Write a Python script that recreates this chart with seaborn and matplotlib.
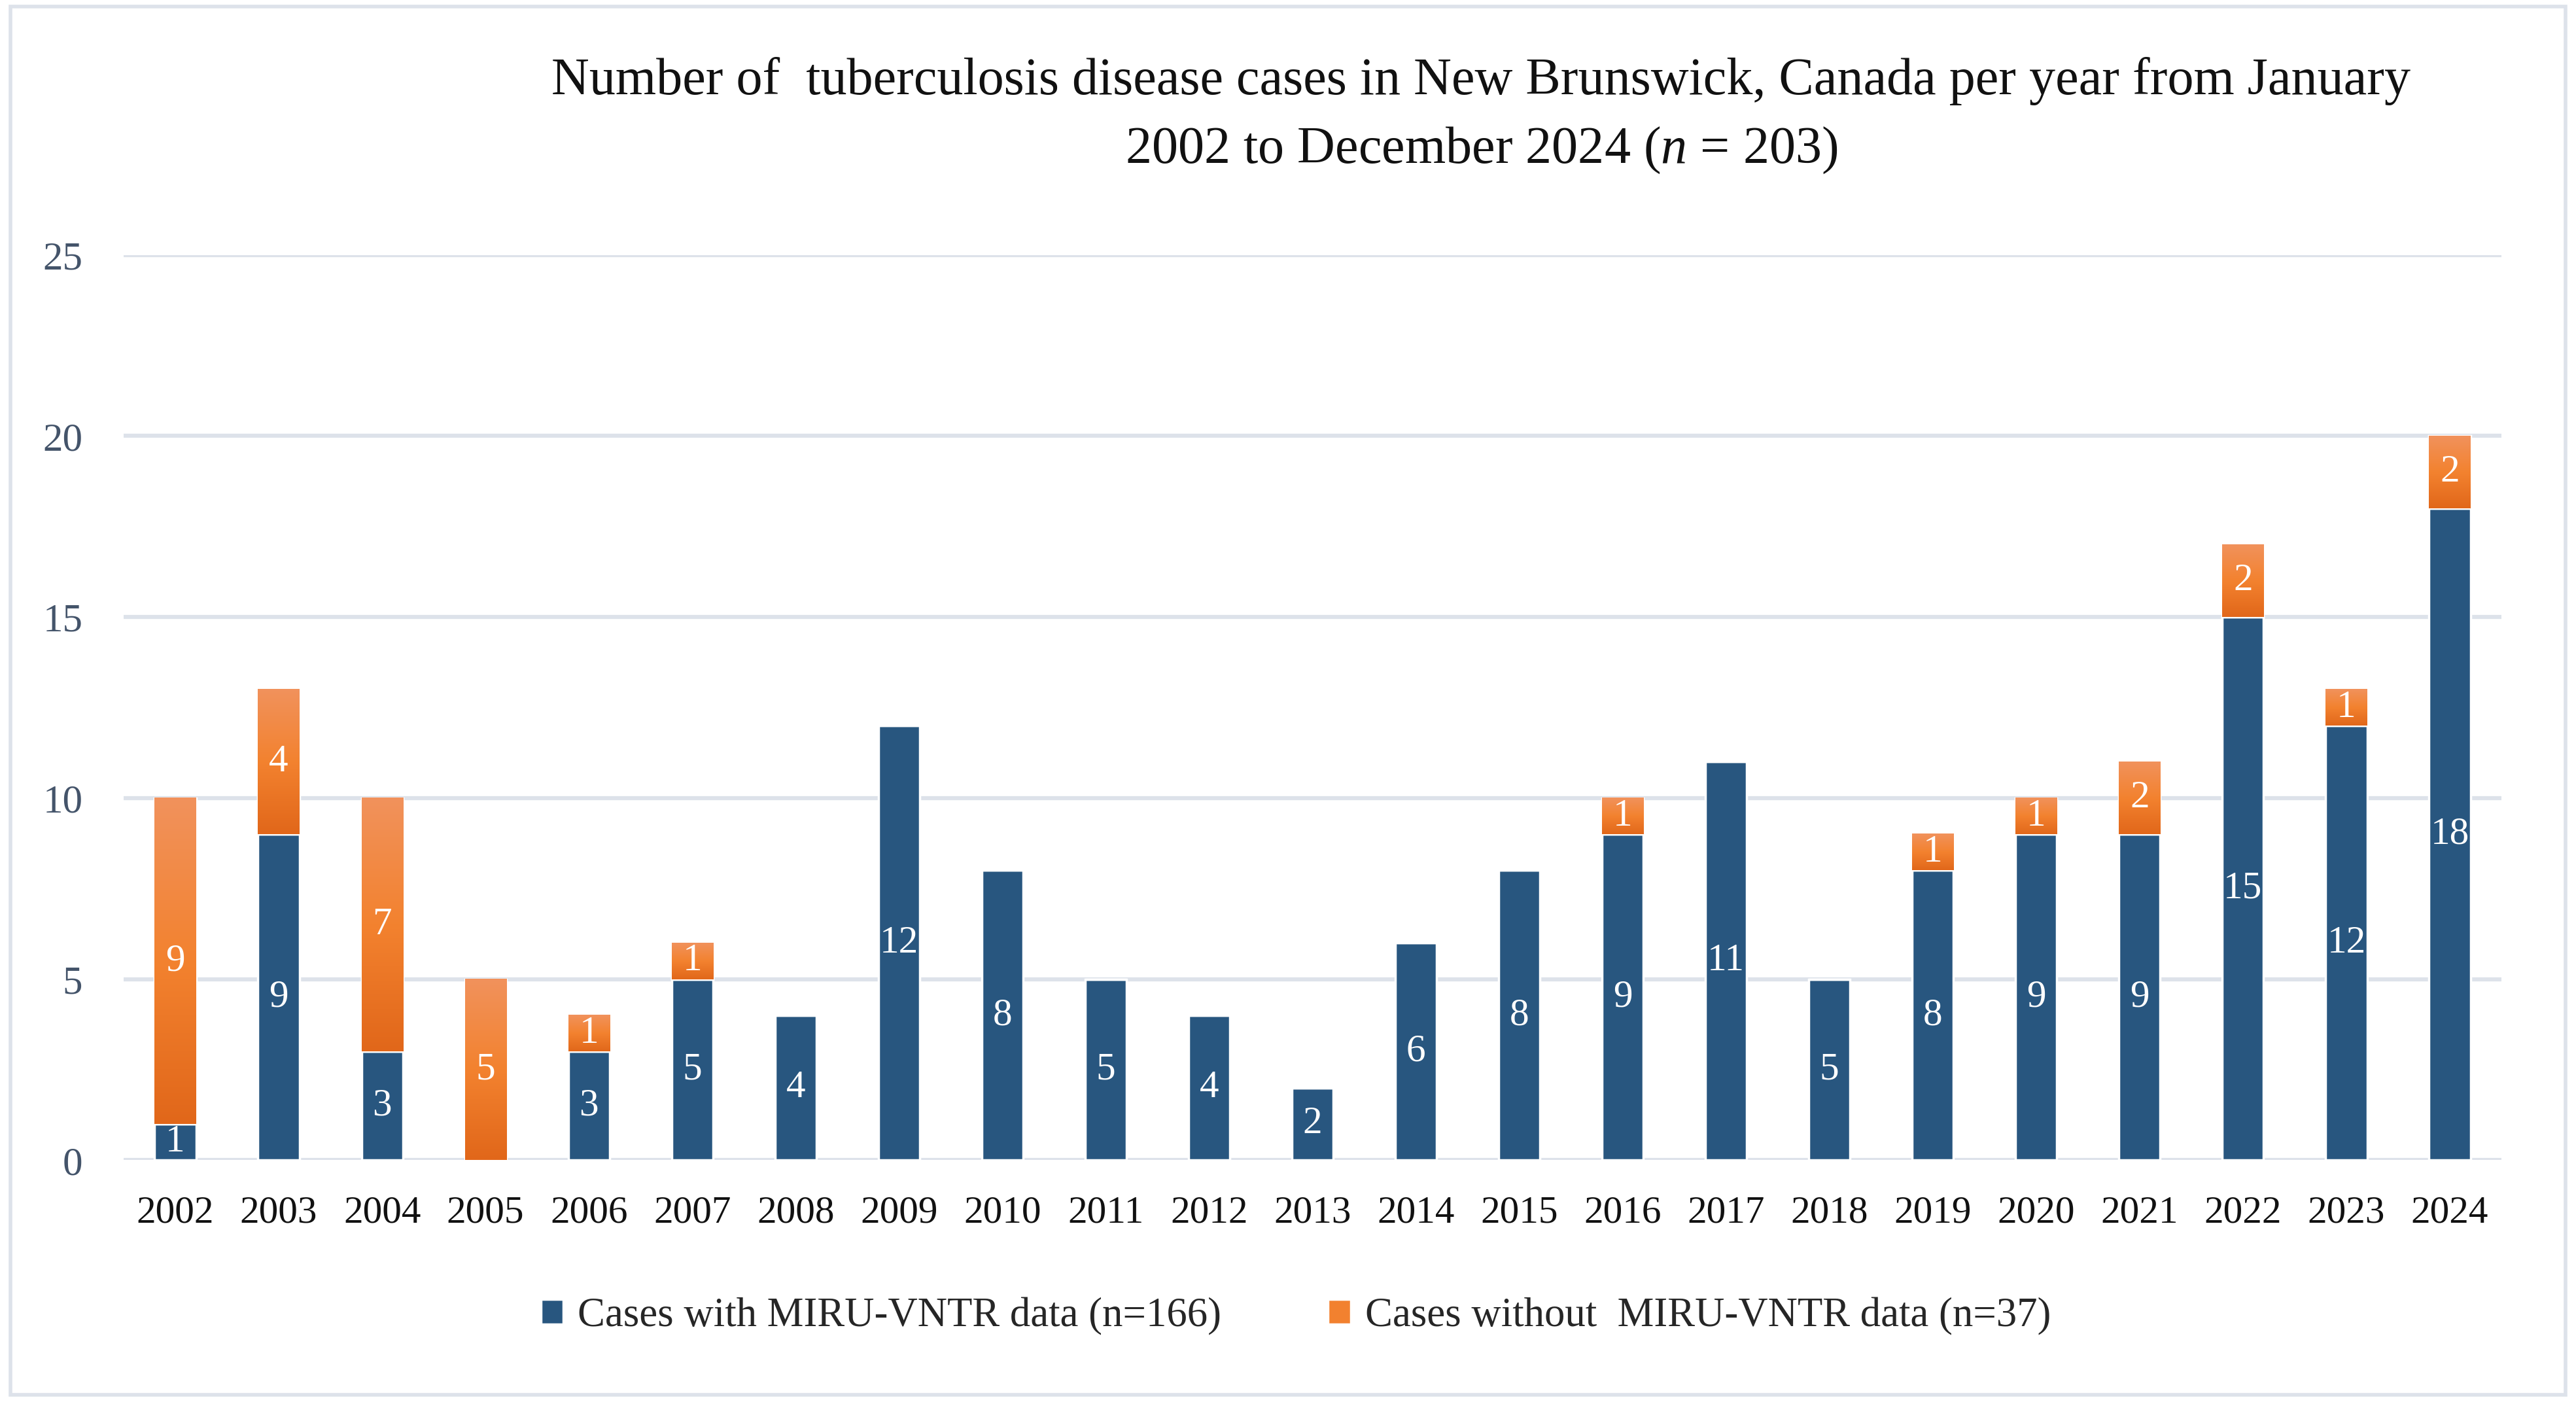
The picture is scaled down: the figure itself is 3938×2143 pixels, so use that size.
import numpy as np
import pandas as pd
import matplotlib
matplotlib.use('Agg')
import matplotlib.pyplot as plt
import seaborn as sns
from matplotlib.colors import LinearSegmentedColormap
from matplotlib.patches import Patch, Rectangle

# data
years = [str(y) for y in range(2002, 2025)]
with_miru = [1, 9, 3, 0, 3, 5, 4, 12, 8, 5, 4, 2, 6, 8, 9, 11, 5, 8, 9, 9, 15, 12, 18]
without_miru = [9, 4, 7, 5, 1, 1, 0, 0, 0, 0, 0, 0, 0, 0, 1, 0, 0, 1, 1, 2, 2, 1, 2]
y_ticks = [0, 5, 10, 15, 20, 25]

df = pd.DataFrame({'Year': years, 'With': with_miru, 'Without': without_miru})

sns.set_theme(style='white')
plt.rcParams['font.family'] = ['Liberation Serif', 'DejaVu Serif']
plt.rcParams['mathtext.fontset'] = 'custom'
plt.rcParams['mathtext.it'] = 'Liberation Serif:italic'
plt.rcParams['mathtext.rm'] = 'Liberation Serif'

blue = '#28567F'
orange_mid = '#F2812F'
grid_col = '#DDE2EA'
orange_cmap = LinearSegmentedColormap.from_list('org', ['#F1925C', '#F3822F', '#E1671A'])

fig = plt.figure(figsize=(15.69, 8.54), dpi=251)
ax = fig.add_axes([0.048, 0.1725, 0.923, 0.6455])

sns.barplot(data=df, x='Year', y='With', color=blue, width=0.40,
            saturation=1, ax=ax, zorder=2)
sns.barplot(data=df, x='Year', y='Without', color=orange_mid, width=0.40,
            saturation=1, ax=ax, bottom=df['With'].values, zorder=2)

cont_blue, cont_orange = ax.containers[0], ax.containers[1]

# gradient fill for the orange segments (light at top, darker at bottom)
grad = np.linspace(0, 1, 256).reshape(-1, 1)
for p in cont_orange.patches:
    if p.get_height() > 0:
        x0 = p.get_x()
        ax.imshow(grad, extent=[x0, x0 + p.get_width(), p.get_y(), p.get_y() + p.get_height()],
                  cmap=orange_cmap, aspect='auto', origin='upper', zorder=2.5,
                  interpolation='bicubic')

ax.bar_label(cont_blue, labels=[str(v) if v else '' for v in with_miru],
             label_type='center', color='white', fontsize=17, zorder=4)
ax.bar_label(cont_orange, labels=[str(v) if v else '' for v in without_miru],
             label_type='center', color='white', fontsize=17, zorder=4)

ax.set_xlim(-0.5, len(years) - 0.5)
ax.set_ylim(0, 25)
ax.set_yticks(y_ticks)
ax.set_xlabel('')
ax.set_ylabel('')
ax.yaxis.grid(True, color=grid_col, linewidth=1.8)
ax.set_axisbelow(True)
for s in ax.spines.values():
    s.set_visible(False)
ax.tick_params(axis='y', length=0, pad=18, labelsize=17.5, labelcolor='#44546A')
ax.tick_params(axis='x', length=0, pad=15.5, labelsize=17, labelcolor='#111111')

fig.text(0.575, 0.942, 'Number of  tuberculosis disease cases in New Brunswick, Canada per year from January',
         ha='center', va='center', fontsize=23, color='#111111')
fig.text(0.575, 0.893, '2002 to December 2024 ($n$ = 203)',
         ha='center', va='center', fontsize=23, color='#111111')

handles = [Patch(facecolor=blue, label='Cases with MIRU-VNTR data (n=166)'),
           Patch(facecolor=orange_mid, label='Cases without  MIRU-VNTR data (n=37)')]
fig.legend(handles=handles, loc='center', bbox_to_anchor=(0.503, 0.061), ncol=2,
           frameon=False, fontsize=18, handlelength=0.55, handleheight=0.56,
           handletextpad=0.35, columnspacing=2.6)

fig.patches.append(Rectangle((0.004, 0.005), 0.992, 0.99, transform=fig.transFigure,
                             fill=False, edgecolor=grid_col, linewidth=1.6))

fig.savefig('out.png', dpi=251)
